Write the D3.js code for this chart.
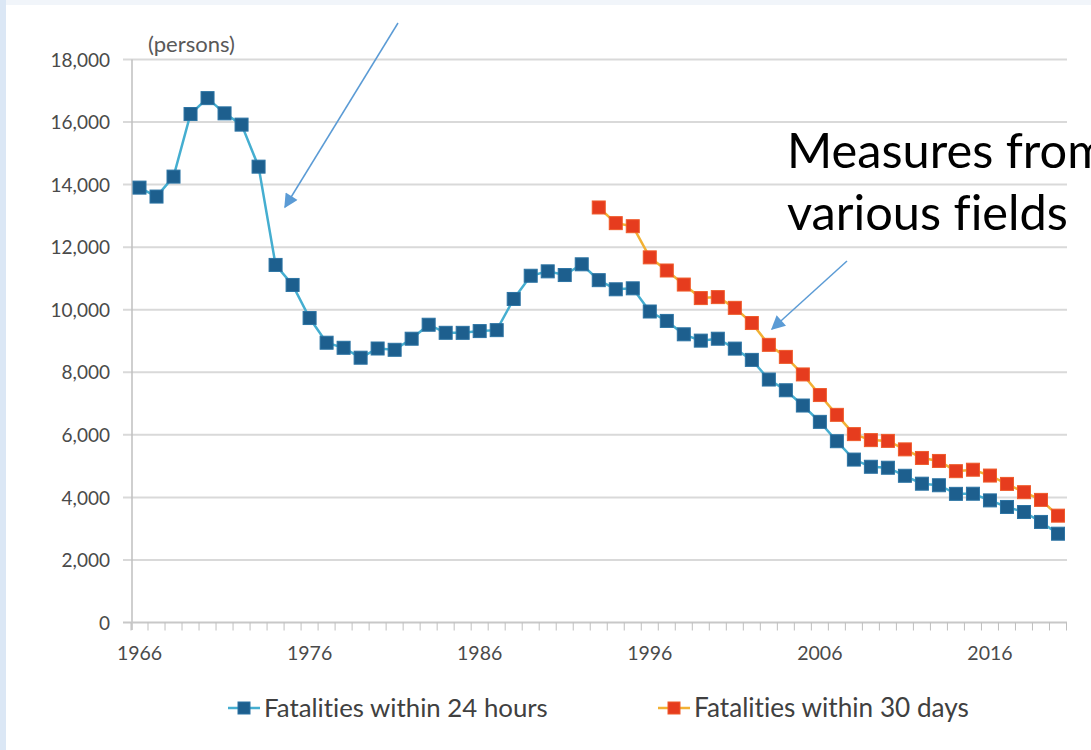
<!DOCTYPE html>
<html><head><meta charset="utf-8">
<script src="https://cdn.jsdelivr.net/npm/d3@7"></script>
<style>
html,body{margin:0;padding:0;background:#fff;}
svg{display:block;}
text{font-variant-ligatures:none;font-feature-settings:"liga" 0;}
</style></head>
<body>
<svg id="c" width="1091" height="750"></svg>
<script>
// ---- data ----
const years = d3.range(1966, 2021);
const within24h = [13904,13618,14256,16257,16765,16278,15918,14574,11432,10792,
  9734,8945,8783,8466,8760,8719,9073,9520,9262,9261,
  9317,9347,10344,11086,11227,11109,11452,10945,10653,10684,
  9943,9642,9214,9012,9073,8757,8396,7768,7425,6937,
  6415,5796,5209,4979,4948,4691,4438,4388,4113,4117,
  3904,3694,3532,3215,2839];
const years30d = d3.range(1993, 2021);
const within30d = [13269,12768,12670,11674,11254,10805,10372,10403,10060,9575,
  8877,8492,7931,7272,6639,6023,5831,5806,5535,5261,
  5165,4838,4885,4698,4431,4166,3920,3416];
const yTicks = [0,2000,4000,6000,8000,10000,12000,14000,16000,18000];
const xTickYears = [1966,1976,1986,1996,2006,2016];
const seriesNames = ["Fatalities within 24 hours","Fatalities within 30 days"];
const unitLabel = "(persons)";
const noteLines = ["Measures from","various fields"];

// ---- layout ----
const svg = d3.select("#c");
const FONT = "Lato, 'Open Sans', sans-serif";
svg.append("rect").attr("x",0).attr("y",0).attr("width",1091).attr("height",750).attr("fill","#f1f5fa");
svg.append("rect").attr("x",0).attr("y",0).attr("width",6).attr("height",750).attr("fill","#dbe7f5");
svg.append("rect").attr("x",6).attr("y",5).attr("width",1085).attr("height",745).attr("fill","#ffffff");

const x = d3.scaleBand().domain(years).range([131, 1066.5]).padding(0);
const y = d3.scaleLinear().domain([0, 18000]).range([622.5, 59.5]);
const cx = d => x(d) + x.bandwidth()/2;

function fit(t, w){ const n=t.node(); const fs=+t.attr("font-size"); const cw=n.getComputedTextLength(); t.attr("font-size", fs*w/cw); }

// gridlines
svg.append("g").selectAll("line").data(yTicks.filter(d=>d>0)).join("line")
  .attr("x1",123).attr("x2",1067).attr("y1",d=>y(d)).attr("y2",d=>y(d))
  .attr("stroke","#d9d9d9").attr("stroke-width",2);

// y axis labels
const yAxis = svg.append("g").attr("transform","translate(131,0)")
  .call(d3.axisLeft(y).tickValues(yTicks).tickFormat(d3.format(",")).tickSize(0).tickPadding(21));
yAxis.select(".domain").remove();
yAxis.selectAll("text").attr("font-family",FONT).attr("font-size",19).attr("fill","#4a4a4a").attr("dy","0.35em");

// y axis line
svg.append("line").attr("x1",132).attr("x2",132).attr("y1",59.5).attr("y2",630)
  .attr("stroke","#bfbfbf").attr("stroke-width",1.5);
// x axis baseline
svg.append("line").attr("x1",123).attr("x2",1067).attr("y1",y(0)).attr("y2",y(0))
  .attr("stroke","#c8c8c8").attr("stroke-width",2);
// category tick marks at band boundaries
const bounds = years.map(d=>x(d)).concat([x.range()[1]]);
svg.append("g").selectAll("line").data(bounds).join("line")
  .attr("x1",d=>d).attr("x2",d=>d).attr("y1",y(0)).attr("y2",y(0)+8)
  .attr("stroke","#bfbfbf").attr("stroke-width",1);

// x axis labels
const xAxis = svg.append("g").attr("transform",`translate(0,${y(0)})`)
  .call(d3.axisBottom(x).tickValues(xTickYears).tickSize(0).tickPadding(30.5));
xAxis.select(".domain").remove();
xAxis.selectAll("text").attr("font-family",FONT).attr("font-size",19.5).attr("fill","#4a4a4a").attr("dy","0.35em");

// unit label
const ul = svg.append("text").attr("x",148).attr("y",52).text(unitLabel)
  .attr("font-family",FONT).attr("font-size",16).attr("fill","#595959");
fit(ul, 87);

// series
const blueLine = "#45aed0", blueFill = "#1d5f8e", blueStroke = "#2b73a3";
const redLine = "#f2b134", redFill = "#e63c1e", redStroke = "#ef5a2a";
const line = d3.line().x(d=>cx(d[0])).y(d=>y(d[1]));
const s1 = years.map((d,i)=>[d, within24h[i]]);
const s2 = years30d.map((d,i)=>[d, within30d[i]]);
const M = 13;

svg.append("path").datum(s1).attr("d",line).attr("fill","none").attr("stroke",blueLine).attr("stroke-width",2.5);
svg.append("g").selectAll("rect").data(s1).join("rect")
  .attr("x",d=>cx(d[0])-M/2).attr("y",d=>y(d[1])-M/2).attr("width",M).attr("height",M)
  .attr("fill",blueFill).attr("stroke",blueStroke).attr("stroke-width",1);

svg.append("path").datum(s2).attr("d",line).attr("fill","none").attr("stroke",redLine).attr("stroke-width",2.5);
svg.append("g").selectAll("rect").data(s2).join("rect")
  .attr("x",d=>cx(d[0])-M/2).attr("y",d=>y(d[1])-M/2).attr("width",M).attr("height",M)
  .attr("fill",redFill).attr("stroke",redStroke).attr("stroke-width",1);

// legend
const legY = 708;
const leg = [
  {x0:228, x1:260, text:seriesNames[0], tx:264, tw:284, lc:blueLine, fc:blueFill, sc:blueStroke},
  {x0:658, x1:690, text:seriesNames[1], tx:694, tw:275, lc:redLine, fc:redFill, sc:redStroke}
];
const lg = svg.append("g").selectAll("g").data(leg).join("g");
lg.append("line").attr("x1",d=>d.x0).attr("x2",d=>d.x1).attr("y1",legY).attr("y2",legY)
  .attr("stroke",d=>d.lc).attr("stroke-width",2.5);
lg.append("rect").attr("x",d=>(d.x0+d.x1)/2-6).attr("y",legY-6).attr("width",12).attr("height",12)
  .attr("fill",d=>d.fc).attr("stroke",d=>d.sc);
lg.append("text").attr("x",d=>d.tx).attr("y",legY).attr("dy","0.35em").text(d=>d.text)
  .attr("font-family",FONT).attr("font-size",19).attr("fill","#404040")
  .each(function(d){ fit(d3.select(this), d.tw); });

// annotation text (clipped at the right edge, as in the source slide)
const t2 = svg.append("text").attr("x",787).attr("y",230).text(noteLines[1])
  .attr("font-family",FONT).attr("font-size",40).attr("fill","#000");
fit(t2, 281);
const fsNote = +t2.attr("font-size");
svg.append("text").attr("x",787).attr("y",168).text(noteLines[0])
  .attr("font-family",FONT).attr("font-size",fsNote).attr("fill","#000");

// arrows
const defs = svg.append("defs");
defs.append("marker").attr("id","ah").attr("viewBox","0 0 10 10").attr("refX",9).attr("refY",5)
  .attr("markerWidth",16).attr("markerHeight",14).attr("markerUnits","userSpaceOnUse").attr("orient","auto")
  .append("path").attr("d","M0,0 L10,5 L0,10 Z").attr("fill","#5b9bd5");
const arrows = [[398,23,285,207],[847,261,772,329]];
svg.append("g").selectAll("line").data(arrows).join("line")
  .attr("x1",d=>d[0]).attr("y1",d=>d[1]).attr("x2",d=>d[2]).attr("y2",d=>d[3])
  .attr("stroke","#5b9bd5").attr("stroke-width",1.5).attr("marker-end","url(#ah)");
</script>
</body></html>
